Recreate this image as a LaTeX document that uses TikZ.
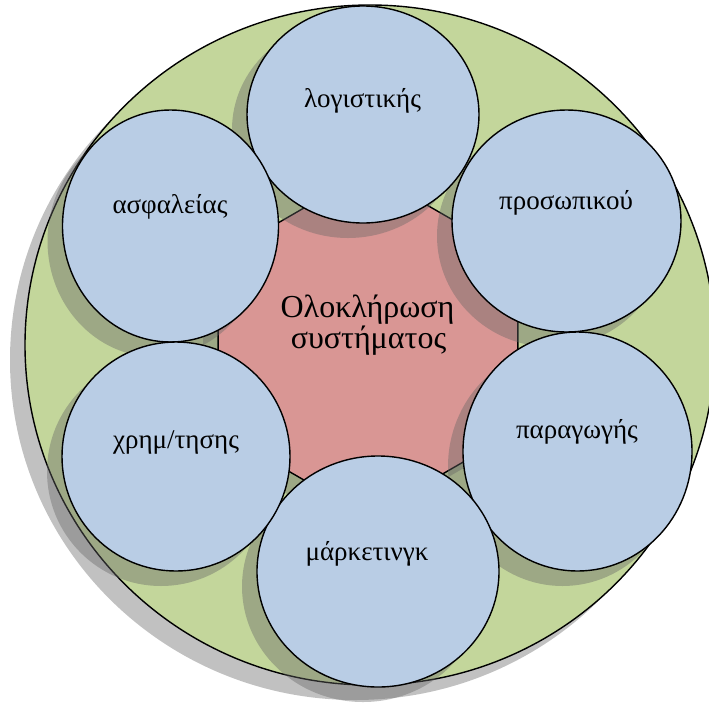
\documentclass[tikz,border=0pt]{standalone}
\usepackage{fontspec}
\setmainfont{Liberation Serif}
\definecolor{ringgreen}{HTML}{C3D69B}
\definecolor{bubbleblue}{HTML}{B9CDE5}
\definecolor{corered}{HTML}{D99694}
\definecolor{shadowgray}{RGB}{100,100,100}

% an ellipse with a drop shadow: centre x, centre y, x radius, y radius, fill
\newcommand\ovalshape[5]{%
  \fill[dropshade] ([xshift=-15pt,yshift=-15pt]#1,#2) ellipse [x radius=#3pt, y radius=#4pt];
  \draw[outline, fill=#5] (#1,#2) ellipse [x radius=#3pt, y radius=#4pt];}

\begin{document}
\begin{tikzpicture}[x=1pt, y=-1pt,
  outline/.style={draw=black, line width=1.4pt},
  dropshade/.style={fill=shadowgray, fill opacity=0.4, draw=none},
  lbl/.style={font=\fontsize{27}{32}\selectfont, anchor=base, inner sep=0pt},
  corelbl/.style={font=\fontsize{32}{36}\selectfont, anchor=base, inner sep=0pt}]
\useasboundingbox (0,0) rectangle (709,702);

% outer ring
\ovalshape{370}{345}{345}{340}{ringgreen}

% central hexagon
\begin{scope}[xshift=-15pt, yshift=-15pt]
  \fill[dropshade] (368,344) +(30:173) -- +(90:173) -- +(150:173) -- +(210:173)
    -- +(270:173) -- +(330:173) -- cycle;
\end{scope}
\draw[outline, fill=corered] (368,344) +(30:173) -- +(90:173) -- +(150:173)
  -- +(210:173) -- +(270:173) -- +(330:173) -- cycle;

% surrounding departments
\ovalshape{566.5}{221}{114.5}{111}{bubbleblue}
\ovalshape{577.5}{451.5}{114.5}{119.5}{bubbleblue}
\ovalshape{378}{571.5}{121}{115.5}{bubbleblue}
\ovalshape{363}{114.5}{116}{108.5}{bubbleblue}
\ovalshape{170.5}{226}{108}{116}{bubbleblue}
\ovalshape{176}{456.5}{114}{114.5}{bubbleblue}

% labels
\node[corelbl] (core1) at (367.5,317) {Ολοκλήρωση};
\node[corelbl] (core2) at (368.5,348) {συστήματος};
\node[lbl] (acct) at (362.5,107) {λογιστικής};
\node[lbl] (staff) at (566,209) {προσωπικού};
\node[lbl] (prod) at (577,438) {παραγωγής};
\node[lbl] (mkt) at (367,560) {μάρκετινγκ};
\node[lbl] (fin) at (176,448) {χρημ/τησης};
\node[lbl] (safe) at (170,213) {ασφαλείας};
\end{tikzpicture}
\end{document}
